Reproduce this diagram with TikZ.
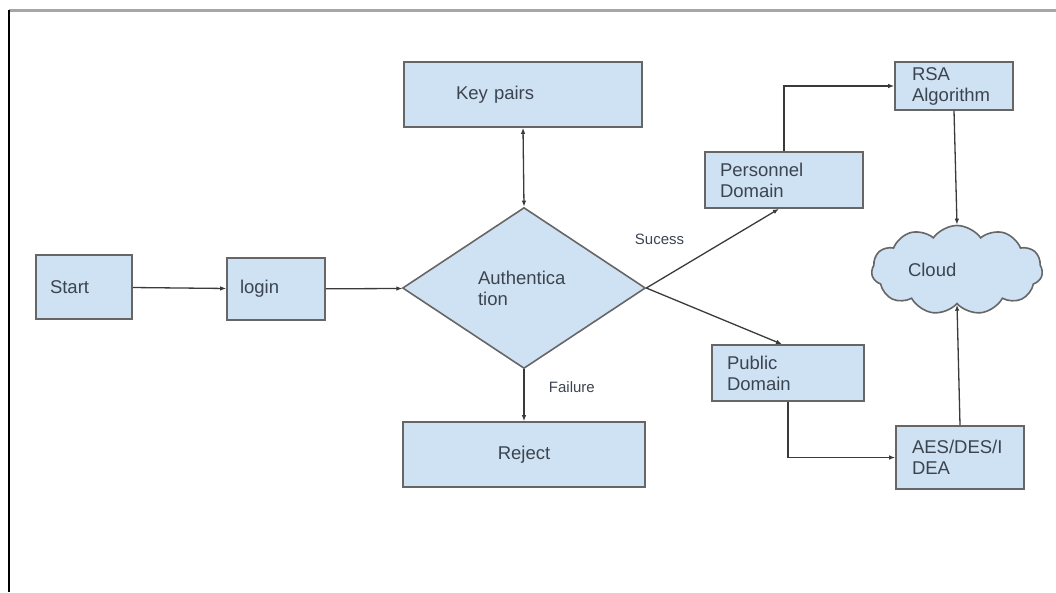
\documentclass[tikz,border=0pt]{standalone}
\usepackage{fontspec}
\setmainfont{Liberation Sans}
\usetikzlibrary{
  shapes.geometric,
  shapes.symbols,
  arrows.meta
}
\definecolor{boxfill}{HTML}{CFE2F3}
\definecolor{boxline}{HTML}{666666}
\definecolor{boxtext}{HTML}{3C4450}
\definecolor{linecol}{HTML}{3A3A3A}

\begin{document}
\begin{tikzpicture}[
    x=1pt, y=-1pt,
    font=\fontsize{18.5}{21}\selectfont,
    box/.style={
      rectangle, draw=boxline, fill=boxfill, line width=1.6pt,
      text=boxtext, align=left, inner ysep=0pt
    },
    lbl/.style={font=\fontsize{15}{18}\selectfont, text=boxtext},
    arr/.style={-{Latex[length=6pt,width=4.5pt]}, draw=linecol, line width=1.3pt},
    biarr/.style={arr, {Latex[length=6pt,width=4.5pt]}-{Latex[length=6pt,width=4.5pt]}},
  ]
    \useasboundingbox (0,0) rectangle (1056,592);
    \draw[line width=3pt, draw=gray!70] (9,10) -- (1056,10);
    \draw[line width=2.4pt] (9,10) -- (9,592);

    \node[box, minimum height=64pt, text width=68pt, inner xsep=14pt]  (start)  at (84,287)    {Start};
    \node[box, minimum height=62pt, text width=72pt, inner xsep=13pt]  (login)  at (276,289)   {login};
    \node[box, diamond, minimum width=243pt, minimum height=161pt,
          inner sep=0pt, text width=92pt]                              (auth)   at (524,288)   {Authentica\\tion};
    \node[box, minimum height=65pt, text width=134pt, inner xsep=52pt] (keys)   at (523,94.5)  {Key pairs};
    \node[box, minimum height=65pt, minimum width=242pt, align=center] (reject) at (524,454.5) {Reject};
    \node[box, minimum height=56pt, text width=128pt, inner xsep=15pt] (pers)   at (784,180)   {Personnel\\Domain};
    \node[box, minimum height=56pt, text width=122pt, inner xsep=15pt] (pub)    at (788,373)   {Public\\Domain};
    \node[box, minimum height=48pt, text width=84pt, inner xsep=17pt]  (rsa)    at (954,86)    {RSA\\Algorithm};
    \node[box, minimum height=63pt, text width=96pt, inner xsep=16pt]  (aes)    at (960,457.5) {AES/DES/I\\DEA};
    \node[box, cloud, cloud puffs=11, cloud puff arc=110, aspect=2,
          minimum width=171pt, minimum height=89pt, inner sep=0pt,
          text width=98pt]                                             (cloud)  at (957,270)   {Cloud};

    \draw[arr]                (start)      -- (login);
    \draw[arr]                (login)      -- (auth);
    \draw[biarr]              (auth.north) -- (keys.south);
    \draw[arr]                (auth.south) -- node[lbl, pos=0.34, right=21pt]{Failure} (reject.north);
    \draw[arr]                (auth.east)  -- node[lbl, pos=0.1, above=31pt]{Sucess} ([xshift=-5pt]pers.south);
    \draw[arr]                (auth.east)  -- ([xshift=-6pt]pub.north);
    \draw[arr]                (pers.north) |- (rsa.west);
    \draw[arr]                (rsa.south)  -- (cloud.north);
    \draw[arr]                (pub.south)  |- (aes.west);
    \draw[arr]                (aes.north)  -- (cloud.south);
  \end{tikzpicture}
\end{document}
